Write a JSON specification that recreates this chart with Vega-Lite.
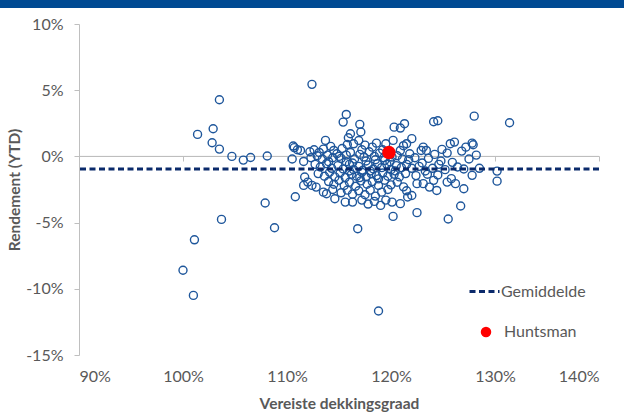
{
  "$schema": "https://vega.github.io/schema/vega-lite/v6.json",
  "width": 520,
  "height": 331,
  "autosize": {"type": "none"},
  "padding": {"left": 79, "top": 24, "right": 25, "bottom": 57},
  "background": "white",
  "config": {
    "view": {"stroke": null},
    "font": "Lato",
    "axis": {"grid": false, "domainColor": "#bfbfbf", "tickColor": "#bfbfbf", "labelColor": "#595959", "labelFontSize": 16, "titleColor": "#595959", "titleFontSize": 15.5, "titleFontWeight": "bold", "labelFont": "Lato", "titleFont": "Lato"},
    "legend": {"labelFont": "Lato", "labelFontSize": 16, "labelColor": "#595959", "padding": 0}
  },
  "datasets": {
    "punten": [
      {"dekking":100.0,"rendement":-8.6},{"dekking":101.0,"rendement":-10.5},{"dekking":101.1,"rendement":-6.3},{"dekking":101.4,"rendement":1.66},{"dekking":102.9,"rendement":2.09},{"dekking":102.8,"rendement":1.03},{"dekking":103.5,"rendement":4.28},{"dekking":103.5,"rendement":0.55},{"dekking":103.7,"rendement":-4.76},{"dekking":104.7,"rendement":0.0},{"dekking":105.8,"rendement":-0.28},{"dekking":106.5,"rendement":-0.08},{"dekking":108.1,"rendement":0.03},{"dekking":107.9,"rendement":-3.52},{"dekking":108.8,"rendement":-5.39},{"dekking":110.7,"rendement":0.66},{"dekking":111.0,"rendement":0.5},{"dekking":110.5,"rendement":-0.2},{"dekking":111.6,"rendement":-0.38},{"dekking":110.8,"rendement":-3.05},{"dekking":112.4,"rendement":5.44},{"dekking":116.8,"rendement":-5.46},{"dekking":118.8,"rendement":-11.68},{"dekking":131.4,"rendement":2.54},{"dekking":130.2,"rendement":-1.11},{"dekking":130.2,"rendement":-1.87},{"dekking":128.0,"rendement":3.04},{"dekking":125.5,"rendement":-4.73},{"dekking":126.7,"rendement":-3.75},{"dekking":122.5,"rendement":-4.25},{"dekking":120.2,"rendement":-4.53},
      {"dekking":115.7,"rendement":3.17},{"dekking":115.4,"rendement":2.59},{"dekking":124.1,"rendement":2.62},{"dekking":124.5,"rendement":2.69},{"dekking":117.0,"rendement":2.42},{"dekking":120.3,"rendement":2.21},{"dekking":120.9,"rendement":2.14},{"dekking":121.3,"rendement":2.47},{"dekking":117.1,"rendement":1.84},{"dekking":116.1,"rendement":1.71},{"dekking":115.9,"rendement":1.41},{"dekking":113.7,"rendement":1.21},{"dekking":114.2,"rendement":0.76},{"dekking":110.6,"rendement":0.78},{"dekking":111.3,"rendement":0.45},{"dekking":127.8,"rendement":1.0},{"dekking":127.9,"rendement":0.88},{"dekking":127.2,"rendement":0.70},{"dekking":126.1,"rendement":1.08},{"dekking":125.7,"rendement":0.96},{"dekking":125.4,"rendement":0.25},{"dekking":124.9,"rendement":0.53},{"dekking":123.1,"rendement":0.70},{"dekking":123.4,"rendement":0.45},{"dekking":122.9,"rendement":0.45},{"dekking":122.0,"rendement":1.34},{"dekking":121.5,"rendement":0.96},{"dekking":121.2,"rendement":0.81},{"dekking":120.9,"rendement":0.45},{"dekking":120.2,"rendement":1.21},
      {"dekking":127.8,"rendement":-1.43},{"dekking":127.0,"rendement":-2.44},{"dekking":126.2,"rendement":-2.06},{"dekking":125.8,"rendement":-1.68},{"dekking":125.4,"rendement":-1.94},{"dekking":124.4,"rendement":-2.57},{"dekking":124.1,"rendement":-1.81},{"dekking":123.7,"rendement":-2.32},{"dekking":123.1,"rendement":-2.06},{"dekking":122.5,"rendement":-2.06},{"dekking":122.0,"rendement":-2.95},{"dekking":121.6,"rendement":-3.07},{"dekking":120.9,"rendement":-3.57},{"dekking":120.1,"rendement":-3.45},{"dekking":115.6,"rendement":-3.45},{"dekking":111.7,"rendement":-1.56},{"dekking":112.0,"rendement":-1.94},{"dekking":112.4,"rendement":-2.19},{"dekking":112.8,"rendement":-2.32},{"dekking":113.5,"rendement":-2.70},{"dekking":113.8,"rendement":-2.82},{"dekking":111.6,"rendement":-2.19},
      {"dekking":112.2,"rendement":0.35},{"dekking":112.6,"rendement":0.5},{"dekking":113.1,"rendement":0.3},{"dekking":113.5,"rendement":0.55},{"dekking":114.5,"rendement":0.45},{"dekking":115.3,"rendement":0.6},{"dekking":115.8,"rendement":0.9},{"dekking":116.4,"rendement":0.95},{"dekking":116.9,"rendement":1.2},{"dekking":117.5,"rendement":0.85},{"dekking":118.2,"rendement":0.7},{"dekking":118.6,"rendement":1.0},{"dekking":119.5,"rendement":0.95},{"dekking":121.8,"rendement":0.2},{"dekking":124.2,"rendement":0.15},{"dekking":126.8,"rendement":0.4},{"dekking":128.2,"rendement":0.1},
      {"dekking":112.3,"rendement":-0.1},{"dekking":112.9,"rendement":0.05},{"dekking":113.4,"rendement":-0.2},{"dekking":113.9,"rendement":0.1},{"dekking":114.4,"rendement":-0.1},{"dekking":114.8,"rendement":0.2},{"dekking":115.2,"rendement":-0.15},{"dekking":115.7,"rendement":0.1},{"dekking":116.1,"rendement":0.3},{"dekking":116.5,"rendement":-0.2},{"dekking":117.0,"rendement":0.15},{"dekking":117.4,"rendement":-0.05},{"dekking":117.9,"rendement":0.35},{"dekking":118.4,"rendement":0.0},{"dekking":118.9,"rendement":0.25},{"dekking":119.3,"rendement":-0.1},{"dekking":120.1,"rendement":-0.05},{"dekking":120.6,"rendement":0.05},{"dekking":121.1,"rendement":-0.2},{"dekking":121.7,"rendement":-0.25},{"dekking":122.3,"rendement":-0.1},{"dekking":123.0,"rendement":-0.5},{"dekking":123.6,"rendement":-0.15},{"dekking":124.8,"rendement":-0.35},{"dekking":125.9,"rendement":-0.45},{"dekking":127.5,"rendement":-0.2},
      {"dekking":112.7,"rendement":-0.6},{"dekking":113.2,"rendement":-0.8},{"dekking":113.8,"rendement":-0.55},{"dekking":114.3,"rendement":-0.9},{"dekking":114.9,"rendement":-0.7},{"dekking":115.4,"rendement":-0.95},{"dekking":116.0,"rendement":-0.6},{"dekking":116.4,"rendement":-1.0},{"dekking":116.9,"rendement":-0.75},{"dekking":117.3,"rendement":-1.05},{"dekking":117.8,"rendement":-0.65},{"dekking":118.3,"rendement":-0.95},{"dekking":118.7,"rendement":-0.55},{"dekking":119.1,"rendement":-0.85},{"dekking":119.6,"rendement":-0.6},{"dekking":120.0,"rendement":-1.0},{"dekking":120.5,"rendement":-0.7},{"dekking":121.0,"rendement":-0.85},{"dekking":121.5,"rendement":-0.6},{"dekking":122.0,"rendement":-0.9},{"dekking":122.7,"rendement":-0.75},{"dekking":123.3,"rendement":-1.1},{"dekking":124.0,"rendement":-0.9},{"dekking":124.6,"rendement":-0.6},{"dekking":125.2,"rendement":-1.0},{"dekking":126.4,"rendement":-0.8},{"dekking":127.0,"rendement":-0.95},{"dekking":128.5,"rendement":-0.9},
      {"dekking":113.0,"rendement":-1.3},{"dekking":113.6,"rendement":-1.5},{"dekking":114.1,"rendement":-1.2},{"dekking":114.6,"rendement":-1.55},{"dekking":115.1,"rendement":-1.25},{"dekking":115.6,"rendement":-1.6},{"dekking":116.2,"rendement":-1.35},{"dekking":116.7,"rendement":-1.5},{"dekking":117.2,"rendement":-1.2},{"dekking":117.6,"rendement":-1.55},{"dekking":118.1,"rendement":-1.3},{"dekking":118.6,"rendement":-1.45},{"dekking":119.2,"rendement":-1.25},{"dekking":119.7,"rendement":-1.5},{"dekking":120.3,"rendement":-1.35},{"dekking":120.8,"rendement":-1.55},{"dekking":121.4,"rendement":-1.3},{"dekking":122.4,"rendement":-1.45},{"dekking":123.5,"rendement":-1.35},{"dekking":124.5,"rendement":-1.4},
      {"dekking":114.0,"rendement":-1.9},{"dekking":114.5,"rendement":-2.1},{"dekking":115.0,"rendement":-1.8},{"dekking":115.5,"rendement":-2.2},{"dekking":116.0,"rendement":-1.95},{"dekking":116.6,"rendement":-2.25},{"dekking":117.1,"rendement":-1.85},{"dekking":117.7,"rendement":-2.1},{"dekking":118.2,"rendement":-1.9},{"dekking":118.8,"rendement":-2.2},{"dekking":119.4,"rendement":-1.8},{"dekking":120.0,"rendement":-2.15},{"dekking":120.6,"rendement":-1.95},{"dekking":121.2,"rendement":-2.3},
      {"dekking":114.4,"rendement":-2.5},{"dekking":115.2,"rendement":-2.75},{"dekking":115.8,"rendement":-2.55},{"dekking":116.3,"rendement":-2.85},{"dekking":116.9,"rendement":-2.6},{"dekking":117.5,"rendement":-2.9},{"dekking":118.0,"rendement":-2.55},{"dekking":118.5,"rendement":-3.0},{"dekking":119.1,"rendement":-2.7},{"dekking":119.7,"rendement":-2.5},{"dekking":121.5,"rendement":-2.6},
      {"dekking":114.6,"rendement":-3.2},{"dekking":117.2,"rendement":-3.3},{"dekking":117.8,"rendement":-3.6},{"dekking":118.4,"rendement":-3.4},{"dekking":119.0,"rendement":-3.7},{"dekking":119.5,"rendement":-3.3},{"dekking":116.3,"rendement":-3.45},
      {"dekking":115.0,"rendement":0.0},{"dekking":116.3,"rendement":-0.5},{"dekking":117.6,"rendement":-0.35},{"dekking":118.0,"rendement":-1.1},{"dekking":118.8,"rendement":-1.7},{"dekking":119.4,"rendement":-0.3},{"dekking":117.0,"rendement":-1.6},{"dekking":116.0,"rendement":-1.1},{"dekking":119.9,"rendement":-0.4},{"dekking":118.5,"rendement":-0.25},{"dekking":117.2,"rendement":0.5},{"dekking":114.0,"rendement":-0.4},{"dekking":115.7,"rendement":-0.4},{"dekking":120.4,"rendement":-1.1},{"dekking":119.2,"rendement":0.5}
    ]
  },
  "layer": [
    {
      "data": {"values": [{}]},
      "mark": {"type": "rect", "color": "#004a93", "clip": false},
      "encoding": {
        "x": {"datum": 80, "type": "quantitative"},
        "x2": {"datum": 150},
        "y": {"datum": 11.21, "type": "quantitative"},
        "y2": {"datum": 13}
      }
    },
    {
      "data": {"values": [{}]},
      "mark": {"type": "rule", "color": "#bfbfbf", "strokeWidth": 1},
      "encoding": {
        "y": {"datum": 0, "type": "quantitative"}
      }
    },
    {
      "data": {"name": "punten"},
      "mark": {"type": "point", "shape": "circle", "filled": false, "stroke": "#1e569b", "strokeWidth": 1.4, "size": 64, "opacity": 1},
      "encoding": {
        "x": {
          "field": "dekking", "type": "quantitative",
          "scale": {"domain": [90, 140], "nice": false, "zero": false},
          "axis": {"orient": "bottom", "offset": -199, "values": [90, 100, 110, 120, 130, 140], "labelExpr": "datum.value + '%'", "tickSize": 5, "labelPadding": 207, "title": "Vereiste dekkingsgraad", "titlePadding": 40}
        },
        "y": {
          "field": "rendement", "type": "quantitative",
          "scale": {"domain": [-15, 10], "nice": false, "zero": false},
          "axis": {"values": [-15, -10, -5, 0, 5, 10], "labelExpr": "datum.value + '%'", "tickSize": 5, "labelPadding": 11, "title": "Rendement (YTD)", "titlePadding": 3}
        }
      }
    },
    {
      "data": {"values": [{}]},
      "mark": {"type": "rule", "color": "#0b2a6b", "strokeWidth": 3},
      "encoding": {
        "y": {"datum": -0.95, "type": "quantitative"},
        "strokeDash": {
          "datum": "Gemiddelde",
          "scale": {"domain": ["Gemiddelde"], "range": [[6, 3.5]]},
          "legend": {"orient": "none", "legendX": 389, "legendY": 251, "title": null, "symbolType": "stroke", "symbolSize": 900, "symbolStrokeColor": "#0b2a6b", "symbolStrokeWidth": 3, "labelOffset": 0}
        }
      }
    },
    {
      "data": {"values": [{"naam": "Huntsman", "dekking": 119.8, "rendement": 0.3}]},
      "mark": {"type": "circle", "size": 180, "opacity": 1},
      "encoding": {
        "x": {"field": "dekking", "type": "quantitative"},
        "y": {"field": "rendement", "type": "quantitative"},
        "fill": {
          "field": "naam", "type": "nominal",
          "scale": {"domain": ["Huntsman"], "range": ["#ff0000"]},
          "legend": {"orient": "none", "legendX": 399, "legendY": 300, "title": null, "symbolType": "circle", "symbolSize": 110, "symbolStrokeWidth": 0, "symbolOpacity": 1, "labelOffset": 10}
        }
      }
    }
  ]
}
